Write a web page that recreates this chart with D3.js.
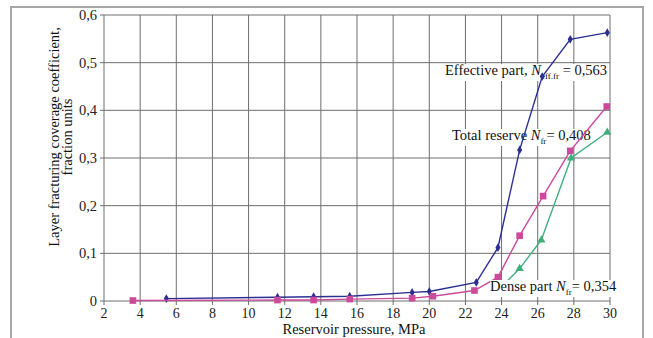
<!DOCTYPE html>
<html><head><meta charset="utf-8">
<script src="https://cdn.jsdelivr.net/npm/d3@7"></script>
<style>body{margin:0;background:#fff}svg{display:block}text{font-family:"Liberation Serif","Times New Roman",serif}</style>
</head><body>
<script>
const xTicks = [2,4,6,8,10,12,14,16,18,20,22,24,26,28,30];
const yTicks = [0,0.1,0.2,0.3,0.4,0.5,0.6];
const yTickLabels = ["0","0,1","0,2","0,3","0,4","0,5","0,6"];
const effX = [5.45,11.6,13.6,15.6,19.05,20.0,22.6,23.8,25.0,26.25,27.8,29.85];
const effY = [0.005,0.008,0.009,0.010,0.018,0.020,0.039,0.112,0.317,0.471,0.549,0.563];
const totX = [3.6,11.6,13.6,15.6,19.05,20.2,22.5,23.8,25.0,26.3,27.8,29.82];
const totY = [0.001,0.002,0.002,0.004,0.006,0.010,0.022,0.050,0.137,0.220,0.315,0.408];
const denX = [23.8,25.0,26.2,27.85,29.85];
const denY = [0.022,0.068,0.128,0.300,0.354];
const xTitle = "Reservoir pressure, MPa";
const yTitle1 = "Layer fracturing coverage coefficient,";
const yTitle2 = "fraction units";

const W=653,H=338;
const svg=d3.select("body").append("svg").attr("width",W).attr("height",H);
svg.append("rect").attr("x",11).attr("y",7).attr("width",632).attr("height",H+20)
  .attr("fill","none").attr("stroke","#a6a6a6").attr("stroke-width",2);

const x=d3.scaleLinear().domain([2,30]).range([104,610]);
const y=d3.scaleLinear().domain([0,0.6]).range([301,15]);
const grid="#6e6e6e";
const g=svg.append("g");
g.selectAll(".vg").data(xTicks).join("line").attr("x1",d=>x(d)).attr("x2",d=>x(d))
 .attr("y1",y(0.6)).attr("y2",y(0)+4).attr("stroke",grid).attr("stroke-width",1);
g.selectAll(".hg").data(yTicks).join("line").attr("y1",d=>y(d)).attr("y2",d=>y(d))
 .attr("x1",x(2)-4).attr("x2",x(30)).attr("stroke",grid).attr("stroke-width",1);
g.selectAll(".xl").data(xTicks).join("text").attr("x",d=>x(d)).attr("y",318)
 .attr("text-anchor","middle").attr("font-size",14).attr("fill","#222").text(d=>d);
g.selectAll(".yl").data(yTicks).join("text").attr("x",97).attr("y",d=>y(d)+5)
 .attr("text-anchor","end").attr("font-size",14.5).attr("fill","#222").text((d,i)=>yTickLabels[i]);
svg.append("text").attr("x",354).attr("y",334).attr("text-anchor","middle").attr("font-size",14.5).attr("fill","#111").text(xTitle);
const yt=svg.append("g").attr("transform","translate(0,137) rotate(-90)");
yt.append("text").attr("x",0).attr("y",59).attr("text-anchor","middle").attr("font-size",14.5).attr("fill","#111").text(yTitle1);
yt.append("text").attr("x",0).attr("y",72).attr("text-anchor","middle").attr("font-size",14.5).attr("fill","#111").text(yTitle2);

function label(parent,xp,yp,pre,sub,post){
  const t=parent.append("text").attr("x",xp).attr("y",yp).attr("font-size",14.5).attr("fill","#111");
  t.append("tspan").text(pre);
  t.append("tspan").attr("font-style","italic").text("N");
  t.append("tspan").attr("font-size",9).attr("dy",4).text(sub);
  t.append("tspan").attr("dy",-4).text(post);
  return t;
}
function bg(parent,t){
  const b=t.node().getBBox();
  parent.insert("rect",()=>t.node()).attr("x",b.x).attr("y",b.y+2).attr("width",b.width).attr("height",b.height-2).attr("fill","#fff");
}
const lblLayer=svg.append("g");
const e=label(lblLayer,445,75,"Effective part, ","eff.fr"," = 0,563");
const t2=label(lblLayer,452,140,"Total reserve ","fr","= 0,408");
bg(lblLayer,e); bg(lblLayer,t2);

const line=d3.line().x(d=>x(d[0])).y(d=>y(d[1]));
const series=[
 {xs:effX,ys:effY,c:"#2c2f92",m:"diamond"},
 {xs:totX,ys:totY,c:"#cc4a9c",m:"square"},
 {xs:denX,ys:denY,c:"#40ae7c",m:"triangle"}];
series.forEach(s=>{
  const pts=s.xs.map((v,i)=>[v,s.ys[i]]);
  svg.append("path").attr("d",line(pts)).attr("fill","none").attr("stroke",s.c).attr("stroke-width",1.4);
  const sym = s.m==="diamond"?d3.symbol(d3.symbolDiamond,22):s.m==="square"?d3.symbol(d3.symbolSquare,44):d3.symbol(d3.symbolTriangle,30);
  svg.selectAll(null).data(pts).join("path").attr("d",sym)
   .attr("transform",d=>`translate(${x(d[0])},${y(d[1])})`).attr("fill",s.c);
});
const topLayer=svg.append("g");
const dn=label(topLayer,490,291,"Dense part ","fr","= 0,354");
bg(topLayer,dn);
</script>
</body></html>
